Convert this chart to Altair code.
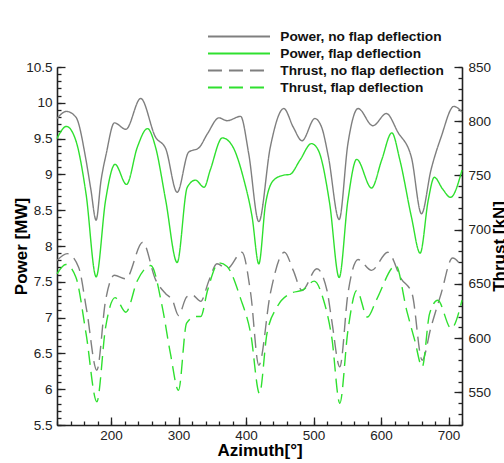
import altair as alt
import pandas as pd

# ---------------- data ----------------
az_power_noflap = [120, 134, 148, 163, 170, 178, 185, 193, 205, 222, 244, 266, 281, 298, 315, 330, 343,
                   360, 372, 392, 404, 419, 436, 456, 470, 483, 502, 512, 522, 538, 551, 566, 588,
                   608, 625, 645, 660, 674, 689, 708, 720]
power_noflap = [9.78, 9.88, 9.80, 9.20, 8.80, 8.36, 8.90, 9.29, 9.72, 9.63, 10.06, 9.52, 9.36, 8.75, 9.31,
                9.37, 9.57, 9.79, 9.75, 9.81, 9.29, 8.34, 9.38, 9.92, 9.66, 9.47, 9.78, 9.66, 9.25,
                8.37, 9.43, 9.92, 9.68, 9.85, 9.59, 9.24, 8.45, 9.06, 9.52, 9.95, 9.87]

az_power_flap = [120, 134, 148, 163, 178, 192, 206, 223, 239, 254, 266, 281, 298, 313, 325, 338, 347,
                 365, 379, 397, 409, 419, 429, 441, 456, 465, 480, 497, 507, 524, 538, 551, 564,
                 586, 601, 616, 628, 645, 658, 670, 679, 691, 703, 720]
power_flap = [9.50, 9.67, 9.47, 8.73, 7.57, 8.64, 9.14, 8.86, 9.38, 9.64, 9.38, 8.64, 7.77, 8.82, 8.92,
              8.82, 9.06, 9.51, 9.41, 8.92, 8.41, 7.75, 8.59, 8.92, 8.99, 9.00, 9.20, 9.43, 9.34,
              8.59, 7.56, 8.64, 9.21, 8.81, 9.20, 9.58, 9.20, 8.41, 7.90, 8.64, 8.96, 8.80, 8.68, 9.06]

az_thrust_noflap = [120, 135, 152, 164, 179, 192, 205, 222, 247, 266, 281, 291, 300, 312, 320, 333, 345,
                    357, 372, 394, 407, 419, 436, 457, 470, 483, 505, 520, 527, 539, 551, 566, 586,
                    610, 630, 646, 661, 674, 689, 706, 720]
thrust_noflap = [671.7, 678, 665.5, 625.7, 570.5, 635, 658, 654.8, 688.5, 654, 641, 635, 621, 638, 640,
                 634, 653, 668.6, 664, 679.3, 641, 575, 641, 679.3, 662.5, 644, 664, 644, 616.5,
                 573.6, 641, 672.6, 662.5, 679.3, 654.8, 641, 579.7, 610, 641, 674, 665.5]

az_thrust_flap = [120, 133, 148, 163, 179, 192, 206, 222, 239, 259, 276, 288, 300, 312, 325, 333, 343,
                  360, 372, 392, 407, 420, 431, 446, 465, 485, 501, 515, 527, 539, 551, 564, 580,
                  593, 622, 638, 650, 661, 672, 684, 704, 720]
thrust_flap = [659.4, 668, 656.3, 604.5, 541.4, 610, 637.4, 624, 653, 667, 628.7, 586, 552, 614, 620,
               620, 644, 669.5, 666, 636.5, 604, 549, 604, 628.7, 641, 644.7, 652.6, 635, 601, 540,
               607, 644, 619.5, 635, 667, 625.7, 598, 573.6, 622.7, 635, 609, 635]

series_names = ["Power, no flap deflection", "Power, flap deflection",
                "Thrust, no flap deflection", "Thrust, flap deflection"]

x_ticks = [200, 300, 400, 500, 600, 700]
power_ticks = [5.5, 6, 6.5, 7, 7.5, 8, 8.5, 9, 9.5, 10, 10.5]
thrust_ticks = [550, 600, 650, 700, 750, 800, 850]
x_minor = list(range(120, 721, 20))
power_minor = [round(5.5 + 0.1 * i, 1) for i in range(51)]
thrust_minor = list(range(520, 851, 10))

# ---------------- styling ----------------
W, H = 405, 358
GRAY = "#7f7f7f"
GREEN = "#2fe02f"
AX = "#222222"
FONT = "Liberation Sans"

df_power = pd.concat([
    pd.DataFrame({"az": az_power_noflap, "value": power_noflap, "series": series_names[0]}),
    pd.DataFrame({"az": az_power_flap, "value": power_flap, "series": series_names[1]}),
])
df_thrust = pd.concat([
    pd.DataFrame({"az": az_thrust_noflap, "value": thrust_noflap, "series": series_names[2]}),
    pd.DataFrame({"az": az_thrust_flap, "value": thrust_flap, "series": series_names[3]}),
])

x_dom = [120, 720]
p_dom = [5.5, 10.5]
t_dom = [520, 850]

def xs():
    return alt.Scale(domain=x_dom, nice=False, zero=False)

legend = alt.Legend(orient="none", legendX=174.5, legendY=-38, title=None,
                    symbolType="M-5,0H5", symbolSize=154, symbolStrokeWidth=1.8,
                    labelFont=FONT, labelFontSize=13.7, labelFontWeight="bold",
                    labelColor="#111111", labelOffset=33.8, labelLimit=400,
                    rowPadding=2, padding=0)

color = alt.Color("series:N", scale=alt.Scale(domain=series_names,
                                              range=[GRAY, GREEN, GRAY, GREEN]), legend=legend)
dash = alt.StrokeDash("series:N", scale=alt.Scale(domain=series_names,
                                                  range=[[1, 0], [1, 0], [14, 7], [14, 7]]),
                      legend=legend)

l_power = alt.Chart(df_power).mark_line(strokeWidth=1.4, interpolate="monotone").encode(
    x=alt.X("az:Q", scale=xs(),
            axis=alt.Axis(orient="bottom", values=x_ticks, ticks=False, tickSize=0,
                          labelPadding=3, title="Azimuth[°]", titlePadding=1)),
    y=alt.Y("value:Q", scale=alt.Scale(domain=p_dom, nice=False, zero=False),
            axis=alt.Axis(orient="left", values=power_ticks, format="~g", ticks=False,
                          tickSize=0, labelPadding=5, title="Power [MW]", titlePadding=-5)),
    color=color, strokeDash=dash, detail="series:N",
)

l_thrust = alt.Chart(df_thrust).mark_line(strokeWidth=1.4, interpolate="monotone").encode(
    x=alt.X("az:Q", scale=xs(), axis=None),
    y=alt.Y("value:Q", scale=alt.Scale(domain=t_dom, nice=False, zero=False),
            axis=alt.Axis(orient="right", values=thrust_ticks, format="d", ticks=False,
                          tickSize=0, labelPadding=6, title="Thrust [kN]", titleAngle=270,
                          titleBaseline="top", titlePadding=1)),
    color=color, strokeDash=dash, detail="series:N",
)

def tick_layer(chan, dom, orient, offset, values, size):
    ax = alt.Axis(orient=orient, offset=offset, values=values, tickSize=size, labels=False,
                  domain=False, title=None, ticks=True, tickColor=AX, tickWidth=1.3)
    sc = alt.Scale(domain=dom, nice=False, zero=False)
    df = pd.DataFrame({"v": dom})
    if chan == "x":
        enc = {"x": alt.X("v:Q", scale=sc, axis=ax)}
    else:
        enc = {"y": alt.Y("v:Q", scale=sc, axis=ax)}
    return alt.Chart(df).mark_point(opacity=0).encode(**enc)

layers = [
    l_power, l_thrust,
    tick_layer("x", x_dom, "top", -H, x_ticks, 8),
    tick_layer("x", x_dom, "top", -H, x_minor, 4),
    tick_layer("y", p_dom, "right", -W, power_ticks, 8),
    tick_layer("y", p_dom, "right", -W, power_minor, 4),
    tick_layer("y", t_dom, "left", -W, thrust_ticks, 8),
    tick_layer("y", t_dom, "left", -W, thrust_minor, 4),
]

chart = alt.layer(*layers).resolve_scale(
    x="independent", y="independent"
).resolve_axis(
    x="independent", y="independent"
).properties(
    width=W, height=H,
    padding={"left": 57, "top": 67, "right": 42, "bottom": 38},
    autosize=alt.AutoSizeParams(type="none"),
).configure_view(stroke=None).configure_axis(
    grid=False, domainColor=AX, domainWidth=1.6,
    labelFont=FONT, labelFontSize=13.5, labelColor="#222222",
    titleFont=FONT, titleFontSize=17, titleFontWeight="bold", titleColor="#000000",
)

chart.save("out.html", embed_options={"renderer": "svg", "actions": False})
